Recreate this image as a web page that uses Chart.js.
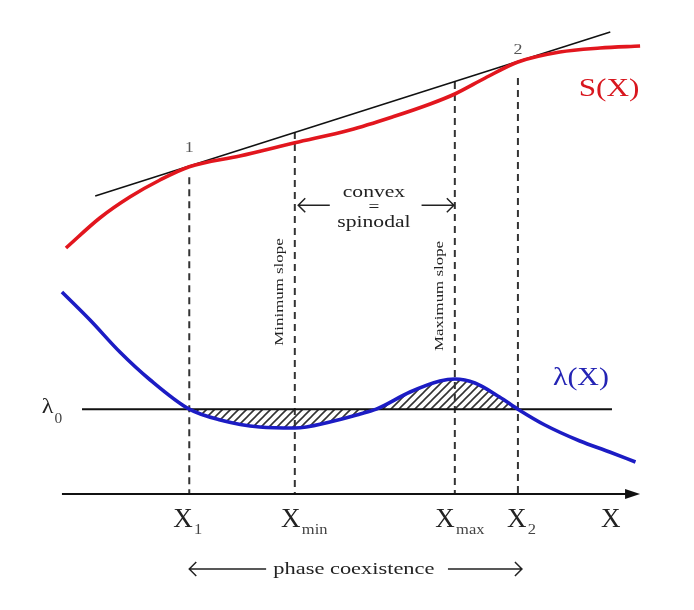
<!DOCTYPE html>
<html>
<head>
<meta charset="utf-8">
<script src="https://cdn.jsdelivr.net/npm/chart.js@4/dist/chart.umd.min.js"></script>
<style>
  body { margin: 0; background: #fff; }
  #wrap { width: 694px; height: 610px; }
</style>
</head>
<body>
<div id="wrap"><canvas id="c" width="694" height="610"></canvas></div>
<script>
// S(X) curve
var sX = [0.05, 0.64, 1.17, 1.69, 2.2, 3.08, 4.04, 5.0, 5.75, 6.4, 6.83, 7.36, 7.93, 8.66, 9.36, 10.06];
var sY = [6.15, 6.9, 7.43, 7.85, 8.18, 8.45, 8.78, 9.1, 9.43, 9.75, 10.0, 10.4, 10.8, 11.05, 11.15, 11.2];

// common tangent
var tanX = [0.56, 9.54];
var tanY = [7.45, 11.55];

// lambda(X) curve
var lamX = [-0.02, 0.47, 0.99, 1.52, 2.2, 2.74, 3.43, 4.04, 4.65, 5.18, 5.46, 6.05, 6.57, 6.83, 7.18, 7.61, 7.93, 8.4, 9.01, 9.53, 9.98];
var lamY = [5.05, 4.35, 3.55, 2.85, 2.12, 1.85, 1.675, 1.65, 1.8, 2.0, 2.12, 2.55, 2.825, 2.875, 2.775, 2.425, 2.12, 1.725, 1.325, 1.05, 0.8];

// lambda_0 level
var lam0 = 2.12;
var lam0X = [0.33, 9.57];

// special compositions: X1, Xmin, Xmax, X2 and where the dashed lines start
var markX = [2.2, 4.04, 6.83, 7.93];
var markTop = [7.92, 9.05, 10.3, 10.4];
var markLabel = ['1', 'min', 'max', '2'];

// X axis
var axisX = [-0.02, 9.9];

function pts(xs, ys) {
	var out = [];
	for (var i = 0; i < xs.length; i++) out.push({x: xs[i], y: ys[i]});
	return out;
}

// hatch pattern
var pc = document.createElement('canvas');
pc.width = 8; pc.height = 8;
var pctx = pc.getContext('2d');
pctx.strokeStyle = '#333';
pctx.lineWidth = 1.6;
pctx.beginPath();
pctx.moveTo(0, 8); pctx.lineTo(8, 0);
pctx.moveTo(-2, 2); pctx.lineTo(2, -2);
pctx.moveTo(6, 10); pctx.lineTo(10, 6);
pctx.stroke();
var hatch = document.getElementById('c').getContext('2d').createPattern(pc, 'repeat');

// part of lambda between X1 and X2 gets hatched
var hx = [], hy = [];
for (var i = 0; i < lamX.length; i++) {
	if (lamX[i] >= markX[0] && lamX[i] <= markX[3]) { hx.push(lamX[i]); hy.push(lamY[i]); }
}

var datasets = [];
datasets.push({ data: pts(sX, sY), borderColor: '#e2161e', borderWidth: 3.6, cubicInterpolationMode: 'monotone', order: 1 });
datasets.push({ data: pts(tanX, tanY), borderColor: '#111', borderWidth: 1.5, order: 2 });
datasets.push({ data: pts(lamX, lamY), borderColor: '#1c1cc4', borderWidth: 3.6, cubicInterpolationMode: 'monotone', order: 1 });
datasets.push({ data: pts(hx, hy), borderColor: 'rgba(0,0,0,0)', borderWidth: 0, cubicInterpolationMode: 'monotone',
	fill: { value: lam0 }, backgroundColor: hatch, order: 9 });
datasets.push({ data: pts(lam0X, [lam0, lam0]), borderColor: '#111', borderWidth: 2, order: 3 });
datasets.push({ data: pts(axisX, [0, 0]), borderColor: '#111', borderWidth: 2, order: 3 });
for (var k = 0; k < markX.length; k++) {
	datasets.push({ data: pts([markX[k], markX[k]], [markTop[k], 0]), borderColor: '#333',
		borderWidth: 2, borderDash: [7, 5], order: 5 });
}
datasets.forEach(function (d) { d.showLine = true; d.pointRadius = 0; });

var FONT = '"Liberation Serif", "Times New Roman", serif';

function txt(ctx, s, px, py, size, color, align, sx, rot) {
	ctx.save();
	ctx.translate(px, py);
	if (rot) ctx.rotate(rot);
	ctx.scale(sx || 1, 1);
	ctx.font = size + 'px ' + FONT;
	ctx.fillStyle = color;
	ctx.textAlign = align || 'center';
	ctx.textBaseline = rot ? 'middle' : 'alphabetic';
	ctx.fillText(s, 0, 0);
	ctx.restore();
}

function arrow(ctx, x1, x2, y) {
	var d = x2 > x1 ? -1 : 1;
	ctx.beginPath();
	ctx.moveTo(x1, y); ctx.lineTo(x2, y);
	ctx.moveTo(x2 + d * 7, y - 7); ctx.lineTo(x2, y); ctx.lineTo(x2 + d * 7, y + 7);
	ctx.stroke();
}

var labels = {
	id: 'labels',
	afterDatasetsDraw: function (chart) {
		var ctx = chart.ctx;
		var xs = chart.scales.x, ys = chart.scales.y;
		function X(v) { return xs.getPixelForValue(v); }
		function Y(v) { return ys.getPixelForValue(v); }

		// axis arrow head
		ctx.fillStyle = '#111';
		ctx.beginPath();
		ctx.moveTo(X(10.06), Y(0));
		ctx.lineTo(X(10.06) - 15, Y(0) - 5);
		ctx.lineTo(X(10.06) - 15, Y(0) + 5);
		ctx.closePath();
		ctx.fill();

		txt(ctx, 'S(X)', X(8.99), Y(9.95), 26, '#d8161e', 'left', 1.2);
		txt(ctx, '\u03bb(X)', X(8.54), Y(2.72), 26, '#2424b4', 'left', 1.15);
		txt(ctx, '1', X(2.2), Y(8.55), 15, '#555', 'center', 1.2);
		txt(ctx, '2', X(7.93), Y(11.0), 15, '#555', 'center', 1.2);

		// lambda_0
		txt(ctx, '\u03bb', X(-0.37), Y(2.02), 22, '#222', 'left', 1.1);
		txt(ctx, '0', X(-0.15), Y(1.78), 14, '#444', 'left', 1.1);

		// convex = spinodal
		txt(ctx, 'convex', X(5.42), Y(7.42), 16, '#222', 'center', 1.35);
		txt(ctx, '=', X(5.42), Y(7.05), 16, '#222', 'center', 1.2);
		txt(ctx, 'spinodal', X(5.42), Y(6.67), 16, '#222', 'center', 1.35);
		ctx.strokeStyle = '#222';
		ctx.lineWidth = 1.5;
		arrow(ctx, X(4.65), X(4.1), Y(7.22));
		arrow(ctx, X(6.25), X(6.83) - 1, Y(7.22));

		// rotated notes
		txt(ctx, 'Minimum slope', X(3.78), Y(5.05), 13.5, '#222', 'center', 1.25, -Math.PI / 2);
		txt(ctx, 'Maximum slope', X(6.57), Y(4.95), 13.5, '#222', 'center', 1.25, -Math.PI / 2);

		// X labels
		var mainX = [2.09, 3.97, 6.66, 7.91];
		for (var k = 0; k < markX.length; k++) {
			txt(ctx, 'X', X(mainX[k]), Y(-0.83), 27, '#222', 'center', 1);
			txt(ctx, markLabel[k], X(mainX[k]) + 11, Y(-1.0), 15, '#444', 'left', 1.1);
		}
		txt(ctx, 'X', X(9.55), Y(-0.83), 27, '#222', 'center', 1);

		// phase coexistence
		txt(ctx, 'phase coexistence', X(5.07), Y(-2.0), 16, '#222', 'center', 1.4);
		arrow(ctx, X(3.54), X(2.2), Y(-1.875));
		arrow(ctx, X(6.71), X(8.0), Y(-1.875));
	}
};

new Chart(document.getElementById('c'), {
	type: 'scatter',
	data: { datasets: datasets },
	options: {
		responsive: false,
		animation: false,
		events: [],
		layout: { padding: 0 },
		plugins: { legend: { display: false }, tooltip: { enabled: false } },
		scales: {
			x: { type: 'linear', display: false, min: -1.1, max: 11 },
			y: { type: 'linear', display: false, min: -2.9, max: 12.35 }
		}
	},
	plugins: [labels]
});
</script>
</body>
</html>
